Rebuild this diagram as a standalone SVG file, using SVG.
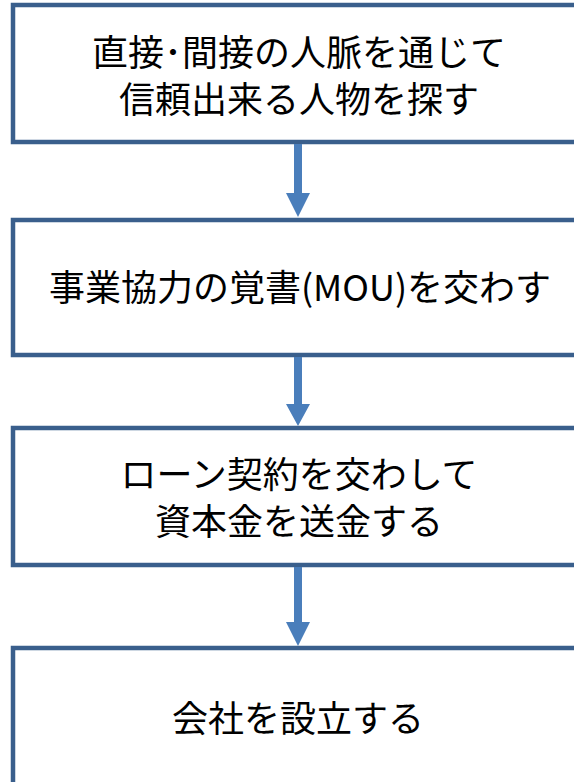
<svg xmlns="http://www.w3.org/2000/svg" width="574" height="782" viewBox="0 0 574 782">
<style>
.box{fill:#fff;stroke:#3A5F8C;stroke-width:4.5}
.t{font-family:"Noto Sans CJK JP","Noto Sans",sans-serif;font-size:36px;fill:#000;text-anchor:middle}
.shaft{fill:#4A7EBB}
</style>
<rect width="574" height="782" fill="#fff"/>
<g id="n1"><rect class="box" x="13" y="5" width="580" height="137"/>
<text class="t" x="299" y="66"><tspan x="299" y="66">直接･間接の人脈を通じて</tspan><tspan x="299" y="113">信頼出来る人物を探す</tspan></text></g>
<g id="n2"><rect class="box" x="13" y="220" width="580" height="135"/>
<text class="t" x="300" y="301">事業協力の覚書(MOU)を交わす</text></g>
<g id="n3"><rect class="box" x="13" y="428" width="580" height="137"/>
<text class="t" x="299" y="488"><tspan x="299" y="488">ローン契約を交わして</tspan><tspan x="299" y="535">資本金を送金する</tspan></text></g>
<g id="n4"><rect class="box" x="13" y="648" width="580" height="160"/>
<text class="t" x="298" y="732">会社を設立する</text></g>
<g id="connectors">
<path class="shaft" d="M294 144 H302 V193 H310 L298 217 L286 193 H294 Z"/>
<path class="shaft" d="M294 357 H302 V404 H310 L298 426 L286 404 H294 Z"/>
<path class="shaft" d="M294 567 H302 V622 H310 L298 646 L286 622 H294 Z"/>
</g>
</svg>
